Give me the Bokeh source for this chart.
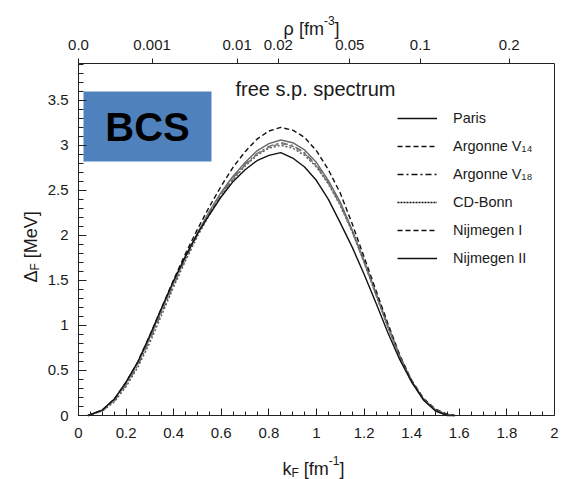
import math
from bokeh.plotting import figure
from bokeh.models import (Range1d, LinearAxis, FixedTicker, SingleIntervalTicker,
                          NumeralTickFormatter, BoxAnnotation, Label, Legend,
                          LegendItem, ColumnDataSource)
from bokeh.embed import file_html
from bokeh.resources import INLINE

# ---------------- data ----------------
KF = [0.04, 0.10, 0.15, 0.20, 0.25, 0.30, 0.35, 0.40, 0.45, 0.50, 0.55, 0.60,
      0.65, 0.70, 0.75, 0.80, 0.85, 0.90, 0.95, 1.00, 1.05, 1.10, 1.15, 1.20,
      1.25, 1.30, 1.35, 1.40, 1.45, 1.50, 1.55, 1.58]

PARIS = [0, 0.06, 0.18, 0.37, 0.59, 0.87, 1.18, 1.48, 1.77, 2.03, 2.27, 2.48,
         2.66, 2.81, 2.94, 3.02, 3.06, 3.03, 2.95, 2.81, 2.61, 2.37, 2.06, 1.72,
         1.36, 1.00, 0.66, 0.38, 0.18, 0.06, 0.01, 0]
ARGONNE_V14 = [0, 0.06, 0.18, 0.37, 0.60, 0.89, 1.20, 1.51, 1.80, 2.07, 2.32, 2.55,
               2.76, 2.93, 3.07, 3.16, 3.20, 3.17, 3.09, 2.94, 2.73, 2.47, 2.13, 1.76,
               1.39, 1.02, 0.67, 0.39, 0.19, 0.07, 0.015, 0]
ARGONNE_V18 = [0, 0.05, 0.16, 0.34, 0.56, 0.84, 1.15, 1.45, 1.74, 2.01, 2.25, 2.46,
               2.64, 2.79, 2.91, 2.99, 3.03, 3.00, 2.92, 2.78, 2.59, 2.35, 2.05, 1.71,
               1.35, 0.99, 0.66, 0.38, 0.18, 0.06, 0.01, 0]
CD_BONN = [0, 0.05, 0.15, 0.32, 0.54, 0.81, 1.12, 1.43, 1.72, 1.99, 2.23, 2.44,
           2.62, 2.77, 2.89, 2.97, 3.00, 2.97, 2.89, 2.76, 2.57, 2.33, 2.04, 1.70,
           1.34, 0.98, 0.65, 0.38, 0.18, 0.06, 0.01, 0]
NIJMEGEN_I = [0, 0.06, 0.17, 0.35, 0.58, 0.86, 1.17, 1.47, 1.76, 2.02, 2.26, 2.46,
              2.63, 2.78, 2.90, 2.98, 3.02, 2.99, 2.91, 2.77, 2.58, 2.34, 2.04, 1.70,
              1.34, 0.98, 0.65, 0.37, 0.17, 0.06, 0.01, 0]
NIJMEGEN_II = [0, 0.06, 0.18, 0.37, 0.60, 0.89, 1.20, 1.50, 1.77, 2.02, 2.23, 2.43,
               2.60, 2.73, 2.83, 2.89, 2.92, 2.86, 2.76, 2.61, 2.40, 2.14, 1.87, 1.57,
               1.25, 0.92, 0.62, 0.37, 0.17, 0.05, 0.0, 0.0]

SERIES_NAMES = ["Paris", "Argonne V\u2081\u2084", "Argonne V\u2081\u2088", "CD-Bonn",
                "Nijmegen I", "Nijmegen II"]
SERIES_VALUES = [PARIS, ARGONNE_V14, ARGONNE_V18, CD_BONN, NIJMEGEN_I, NIJMEGEN_II]

X_MIN, X_MAX = 0.0, 2.0
Y_MIN, Y_MAX = 0.0, 3.91
X_TICK_INTERVAL = 0.2
Y_TICK_INTERVAL = 0.5
RHO_TICKS = [0.0, 0.001, 0.01, 0.02, 0.05, 0.1, 0.2]
RHO_LABELS = ["0.0", "0.001", "0.01", "0.02", "0.05", "0.1", "0.2"]

# ---------------- layout / styles ----------------
W_PX, H_PX = 565, 479
LEFT, RIGHT, TOP, BOTTOM = 78, 554, 63, 415     # axes box in canvas pixels
PXU = (RIGHT - LEFT) / (X_MAX - X_MIN)
PYU = (BOTTOM - TOP) / (Y_MAX - Y_MIN)
XR = Range1d(X_MIN - LEFT / PXU, X_MIN + (W_PX - LEFT) / PXU)
YR = Range1d(Y_MIN - (H_PX - BOTTOM) / PYU, Y_MIN + BOTTOM / PYU)


def cx(px):
    return XR.start + px / PXU


def cy(py):
    return YR.end - py / PYU


FONT = "Liberation Sans"
TXT = "#1a1a1a"
AX = "#222222"
PLOT_COLORS = ["#6a6a6a", "#111111", "#6a6a6a", "#555555", "#7a7a7a", "#111111"]
DASHES = ["solid", "5 3", "7 3 2 3", "2 2", "5 3", "solid"]
LEG_DASHES = ["solid", "5 3", "6 3 2 3", "2 1", "5 3", "solid"]

p = figure(width=W_PX, height=H_PX, output_backend="svg", toolbar_location=None,
           x_range=XR, y_range=YR, min_border=0, x_axis_type=None, y_axis_type=None)
p.title.visible = False
p.grid.visible = False
p.outline_line_color = None
p.background_fill_color = "white"
p.border_fill_color = "white"


def style_axis(ax, size="15px"):
    ax.axis_line_color = AX
    ax.major_tick_line_color = AX
    ax.minor_tick_line_color = AX
    ax.major_tick_out = 0
    ax.minor_tick_out = 0
    ax.major_label_text_font = FONT
    ax.major_label_text_font_size = size
    ax.major_label_text_color = TXT


# bottom k_F axis
xb = LinearAxis(fixed_location=Y_MIN, bounds=(X_MIN, X_MAX),
                ticker=SingleIntervalTicker(interval=X_TICK_INTERVAL, num_minor_ticks=4),
                formatter=NumeralTickFormatter(format="0.[0]"))
style_axis(xb)
xb.major_tick_in = 7
xb.minor_tick_in = 4
xb.major_label_standoff = 12
p.add_layout(xb, "below")

# left Delta axis
yl = LinearAxis(fixed_location=X_MIN, bounds=(Y_MIN, Y_MAX),
                ticker=SingleIntervalTicker(interval=Y_TICK_INTERVAL, num_minor_ticks=5),
                formatter=NumeralTickFormatter(format="0.[0]"))
style_axis(yl)
yl.major_tick_in = 8
yl.minor_tick_in = 5
yl.major_label_standoff = 10
p.add_layout(yl, "left")

# top density axis: rho = kF^3 / (3 pi^2)
rho_pos = [(3 * math.pi ** 2 * r) ** (1.0 / 3.0) for r in RHO_TICKS]
xt = LinearAxis(fixed_location=Y_MAX, bounds=(X_MIN, X_MAX),
                ticker=FixedTicker(ticks=rho_pos, minor_ticks=[]),
                major_label_overrides={pos: lab for pos, lab in zip(rho_pos, RHO_LABELS)})
style_axis(xt)
xt.major_tick_out = 5
xt.major_tick_in = 0
xt.minor_tick_line_color = None
xt.major_label_standoff = 9
p.add_layout(xt, "above")

# right frame edge
yr = LinearAxis(fixed_location=X_MAX, bounds=(Y_MIN, Y_MAX),
                ticker=FixedTicker(ticks=[], minor_ticks=[]))
style_axis(yr)
yr.major_tick_line_color = None
yr.minor_tick_line_color = None
yr.major_label_text_alpha = 0
p.add_layout(yr, "right")

# BCS box
p.add_layout(BoxAnnotation(left=cx(83), right=cx(211), bottom=cy(161), top=cy(91),
                           fill_color="#4F81BD", fill_alpha=1.0, line_alpha=0,
                           level="underlay"))
p.add_layout(Label(x=cx(147), y=cy(126), text="BCS", text_align="center",
                   text_baseline="middle", text_font=FONT, text_font_style="bold",
                   text_font_size="40px", text_color="#000000"))

# curves
for vals, col, dash in zip(SERIES_VALUES, PLOT_COLORS, DASHES):
    src = ColumnDataSource(dict(x=KF, y=vals))
    p.line("x", "y", source=src, line_color=col, line_width=1.4, line_dash=dash)

# legend (black samples; renderers hold no visible data)
items = []
for name, dash in zip(SERIES_NAMES, LEG_DASHES):
    r = p.line(x=[float("nan")], y=[float("nan")], line_color="#111111",
               line_width=1.3, line_dash=dash)
    items.append(LegendItem(label=name, renderers=[r]))
leg = Legend(items=items, location=(397, H_PX - 268), padding=0, margin=0,
             border_line_alpha=0, background_fill_alpha=0, glyph_width=40,
             glyph_height=20, label_height=20, spacing=8, label_standoff=16,
             label_text_font=FONT, label_text_font_size="14.5px",
             label_text_color=TXT)
p.add_layout(leg)

# composite texts (sub/superscripts), positions in canvas pixels
W = {'k': 0.5, 'F': 0.611, ' ': 0.278, '[': 0.278, ']': 0.278, 'f': 0.278,
     'm': 0.833, '-': 0.333, '1': 0.556, '3': 0.556, '\u03c1': 0.58,
     '\u0394': 0.668, 'M': 0.833, 'e': 0.556, 'V': 0.667}


def rich_text(parts, px0, py0, angle=0.0):
    pos = 0.0
    for text, size, shift in parts:
        if text.strip():
            if angle == 0:
                px, py = px0 + pos, py0 - shift
            else:
                px, py = px0 - shift, py0 - pos
            p.add_layout(Label(x=cx(px), y=cy(py), text=text, angle=angle,
                               text_font=FONT, text_font_size=f"{size}px",
                               text_color=TXT, text_align="left",
                               text_baseline="alphabetic"))
        pos += sum(W.get(c, 0.56) for c in text) * size


# x-axis title  k_F [fm^-1]
rich_text([("k", 18, 0), ("F", 12, -4), (" ", 18, 0), ("[fm", 18, 0), ("-1", 12, 8),
           ("]", 18, 0)], 282, 468)
# top axis title  rho [fm^-3]
rich_text([("\u03c1", 18, 0), (" ", 18, 0), ("[fm", 18, 0), ("-3", 12, 8), ("]", 18, 0)],
          283, 28)
# y-axis title  Delta_F [MeV]
rich_text([("\u0394", 18, 0), ("F", 12, -4), (" ", 18, 0), ("[MeV]", 18, 0)],
          30, 282, angle=math.pi / 2)

# in-plot caption
p.add_layout(Label(x=cx(315), y=cy(88), text="free s.p. spectrum", text_align="center",
                   text_baseline="alphabetic", text_font=FONT,
                   text_font_size="20px", text_color=TXT))

open("out.html", "w").write(file_html(p, INLINE))
